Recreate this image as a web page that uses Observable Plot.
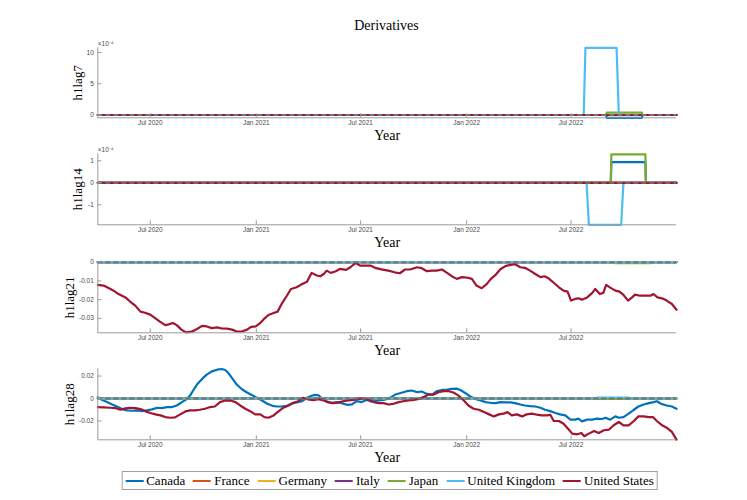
<!DOCTYPE html>
<html>
<head>
<meta charset="utf-8">
<script src="https://cdn.jsdelivr.net/npm/d3@7"></script>
<script src="https://cdn.jsdelivr.net/npm/@observablehq/plot@0.6"></script>
<style>
  body { margin: 0; background: #fff; }
  #wrap { position: relative; width: 747px; height: 500px; overflow: hidden; background: #fff; }
  #wrap svg { position: absolute; left: 0; overflow: visible; }
  #title { position: absolute; left: 97px; width: 579px; top: 18px; text-align: center;
           font: 14px "Liberation Serif", serif; color: #000; }
  #legend { position: absolute; top: 471px; left: 389.5px; transform: translateX(-50%);
            height: 17px; border: 1px solid #a0a0a0; background: #fff; display: flex; align-items: center;
            padding: 0 3px; white-space: nowrap; font: 13px "Liberation Serif", serif; color: #000; }
  #legend .item { display: flex; align-items: center; margin-right: 8px; }
  #legend .item:last-child { margin-right: 0; }
  #legend .sw { width: 18px; height: 2px; margin-right: 3px; }
</style>
</head>
<body>
<div id="wrap">
  <div id="title">Derivatives</div>
  <div id="legend"></div>
</div>
<script>
// ---------------- data ----------------
const COUNTRIES = ["Canada", "France", "Germany", "Italy", "Japan", "United Kingdom", "United States"];
const COLORS = ["#0072BD", "#D95319", "#EDB120", "#7E2F8E", "#77AC30", "#4DBEEE", "#A2142F"];
const X_START = "2020-04-01";
const X_END = "2022-12-31";
const X_TICKS = ["2020-07-01", "2021-01-01", "2021-07-01", "2022-01-01", "2022-07-01"];
const X_TICK_LABELS = ["Jul 2020", "Jan 2021", "Jul 2021", "Jan 2022", "Jul 2022"];
const FLAT_DATES = [X_START, X_END];
const FLAT_VALUES = [0, 0];

// h1lag7
const lag7_canada_dates = ["2020-04-01", "2022-08-31", "2022-09-01", "2022-11-01", "2022-11-02", "2022-12-31"];
const lag7_canada_values = [0, 0, -0.000045, -0.000045, 0, 0];
const lag7_japan_dates = ["2020-04-01", "2022-08-31", "2022-09-01", "2022-11-01", "2022-11-02", "2022-12-31"];
const lag7_japan_values = [0, 0, 0.000038, 0.000038, 0, 0];
const lag7_uk_dates = ["2020-04-01", "2022-07-23", "2022-07-26", "2022-09-18", "2022-09-22", "2022-12-31"];
const lag7_uk_values = [0, 0, 0.001075, 0.001075, 0, 0];

// h1lag14
const lag14_canada_dates = ["2020-04-01", "2022-09-08", "2022-09-09", "2022-11-07", "2022-11-08", "2022-12-31"];
const lag14_canada_values = [0, 0, 0.000094, 0.000094, 0, 0];
const lag14_japan_dates = ["2020-04-01", "2022-09-08", "2022-09-09", "2022-11-07", "2022-11-08", "2022-12-31"];
const lag14_japan_values = [0, 0, 0.000129, 0.000129, 0, 0];
const lag14_uk_dates = ["2020-04-01", "2022-07-28", "2022-08-01", "2022-09-26", "2022-09-30", "2022-12-31"];
const lag14_uk_values = [0, 0, -0.000191, -0.000191, 0, 0];

// h1lag21
const lag21_japan_dates = ["2020-04-01", "2022-09-15", "2022-09-16", "2022-11-16", "2022-11-17", "2022-12-31"];
const lag21_japan_values = [0, 0, -0.0005, -0.0005, 0, 0];
const lag21_us_dates = [
  "2020-04-01","2020-04-11","2020-04-23","2020-05-01","2020-05-07","2020-05-19","2020-05-27","2020-06-05","2020-06-14","2020-06-22",
  "2020-07-01","2020-07-10","2020-07-19","2020-07-27","2020-08-02","2020-08-09","2020-08-16","2020-08-24","2020-09-01","2020-09-11",
  "2020-09-20","2020-09-29","2020-10-07","2020-10-16","2020-10-25","2020-11-02","2020-11-11","2020-11-20","2020-11-28","2020-12-07",
  "2020-12-16","2020-12-23","2020-12-31","2021-01-07","2021-01-14","2021-01-22","2021-01-31","2021-02-07","2021-02-14","2021-02-23",
  "2021-03-02","2021-03-12","2021-03-19","2021-03-30","2021-04-07","2021-04-16","2021-04-22","2021-04-28","2021-05-03","2021-05-10",
  "2021-05-18","2021-05-26","2021-06-06","2021-06-13","2021-06-22","2021-06-30","2021-07-09","2021-07-18","2021-07-26","2021-08-06",
  "2021-08-18","2021-08-29","2021-09-07","2021-09-16","2021-09-25","2021-10-07","2021-10-15","2021-10-24","2021-11-02","2021-11-10",
  "2021-11-19","2021-11-28","2021-12-06","2021-12-15","2021-12-24","2022-01-01","2022-01-10","2022-01-18","2022-01-27","2022-02-05",
  "2022-02-12","2022-02-20","2022-02-28","2022-03-09","2022-03-18","2022-03-26","2022-04-04","2022-04-12","2022-04-21","2022-04-30",
  "2022-05-09","2022-05-16","2022-05-23","2022-06-01","2022-06-10","2022-06-18","2022-06-25","2022-07-01","2022-07-08","2022-07-14",
  "2022-07-20","2022-07-29","2022-08-07","2022-08-12","2022-08-20","2022-08-26","2022-08-31","2022-09-07","2022-09-16","2022-09-23",
  "2022-09-30","2022-10-08","2022-10-15","2022-10-20","2022-10-29","2022-11-07","2022-11-16","2022-11-21","2022-11-28","2022-12-06",
  "2022-12-14","2022-12-23","2022-12-31"];
const lag21_us_values = [
  -0.0121,-0.0125,-0.0143,-0.0157,-0.0170,-0.0188,-0.0210,-0.0232,-0.0264,-0.0270,
  -0.0280,-0.0300,-0.0320,-0.0336,-0.0332,-0.0325,-0.0336,-0.0360,-0.0375,-0.0371,
  -0.0357,-0.0340,-0.0343,-0.0352,-0.0348,-0.0354,-0.0355,-0.0360,-0.0370,-0.0370,
  -0.0360,-0.0345,-0.0343,-0.0327,-0.0304,-0.0282,-0.0271,-0.0264,-0.0223,-0.0179,
  -0.0143,-0.0134,-0.0121,-0.0104,-0.0057,-0.0071,-0.0075,-0.0063,-0.0045,-0.0057,
  -0.0050,-0.0036,-0.0041,-0.0027,-0.0005,-0.0018,-0.0018,-0.0018,-0.0030,-0.0038,
  -0.0045,-0.0054,-0.0059,-0.0039,-0.0039,-0.0027,-0.0032,-0.0048,-0.0045,-0.0045,
  -0.0039,-0.0057,-0.0075,-0.0089,-0.0080,-0.0082,-0.0089,-0.0125,-0.0139,-0.0116,
  -0.0089,-0.0068,-0.0039,-0.0021,-0.0014,-0.0011,-0.0027,-0.0030,-0.0045,-0.0063,
  -0.0080,-0.0075,-0.0086,-0.0110,-0.0134,-0.0152,-0.0157,-0.0205,-0.0196,-0.0193,
  -0.0200,-0.0188,-0.0164,-0.0143,-0.0170,-0.0164,-0.0121,-0.0136,-0.0152,-0.0157,
  -0.0175,-0.0205,-0.0188,-0.0173,-0.0179,-0.0179,-0.0179,-0.0170,-0.0188,-0.0193,
  -0.0205,-0.0223,-0.0254];

// h1lag28
const lag28_uk_dates = ["2020-04-01", "2022-08-14", "2022-08-15", "2022-10-09", "2022-10-10", "2022-12-31"];
const lag28_uk_values = [0, 0, 0.0009, 0.0009, 0, 0];
const lag28_japan_dates = ["2020-04-01", "2022-08-14", "2022-08-15", "2022-10-09", "2022-10-10", "2022-12-31"];
const lag28_japan_values = [0, 0, -0.0003, -0.0003, 0, 0];
const lag28_canada_dates = [
  "2020-04-01","2020-04-08","2020-04-17","2020-04-26","2020-05-04","2020-05-13","2020-05-22","2020-05-31","2020-06-08","2020-06-17",
  "2020-06-25","2020-07-04","2020-07-13","2020-07-21","2020-07-30","2020-08-08","2020-08-16","2020-08-25","2020-09-03","2020-09-08",
  "2020-09-14","2020-09-20","2020-09-29","2020-10-07","2020-10-16","2020-10-25","2020-11-02","2020-11-08","2020-11-14","2020-11-20",
  "2020-11-28","2020-12-07","2020-12-16","2020-12-24","2021-01-02","2021-01-11","2021-01-20","2021-01-29","2021-02-06","2021-02-14",
  "2021-02-23","2021-03-03","2021-03-12","2021-03-21","2021-03-30","2021-04-07","2021-04-13","2021-04-19","2021-04-25","2021-05-03",
  "2021-05-12","2021-05-20","2021-05-29","2021-06-07","2021-06-16","2021-06-24","2021-07-03","2021-07-12","2021-07-20","2021-07-29",
  "2021-08-10","2021-08-21","2021-08-30","2021-09-07","2021-09-19","2021-09-28","2021-10-07","2021-10-15","2021-10-24","2021-11-02",
  "2021-11-10","2021-11-19","2021-11-28","2021-12-06","2021-12-14","2021-12-21","2021-12-30","2022-01-07","2022-01-16","2022-01-25",
  "2022-02-03","2022-02-11","2022-02-20","2022-02-28","2022-03-09","2022-03-18","2022-03-26","2022-04-04","2022-04-12","2022-04-21",
  "2022-04-30","2022-05-09","2022-05-17","2022-05-26","2022-06-04","2022-06-12","2022-06-21","2022-06-30","2022-07-08","2022-07-14",
  "2022-07-20","2022-07-29","2022-08-07","2022-08-15","2022-08-24","2022-08-30","2022-09-07","2022-09-16","2022-09-22","2022-09-30",
  "2022-10-09","2022-10-18","2022-10-26","2022-11-04","2022-11-13","2022-11-21","2022-11-27","2022-12-04","2022-12-14","2022-12-23",
  "2022-12-31"];
const lag28_canada_values = [
  0.0012,-0.0012,-0.0032,-0.0053,-0.0071,-0.0094,-0.0106,-0.0109,-0.0106,-0.0112,
  -0.0106,-0.0097,-0.0082,-0.0085,-0.0076,-0.0076,-0.0062,-0.0032,-0.0003,0.0026,
  0.0076,0.0124,0.0174,0.0212,0.0241,0.0256,0.0262,0.0253,0.0224,0.0182,
  0.0124,0.0082,0.0053,0.0032,0.0006,-0.0018,-0.0047,-0.0065,-0.0071,-0.0071,
  -0.0065,-0.0047,-0.0035,-0.0024,0.0006,0.0024,0.0032,0.0029,-0.0003,-0.0024,
  -0.0041,-0.0032,-0.0041,-0.0056,-0.0053,-0.0024,-0.0032,-0.0012,-0.0028,-0.0020,
  -0.0012,0.0006,0.0035,0.0047,0.0065,0.0071,0.0056,0.0062,0.0041,0.0035,
  0.0065,0.0076,0.0079,0.0085,0.0088,0.0076,0.0047,0.0018,-0.0003,-0.0018,
  -0.0032,-0.0038,-0.0041,-0.0032,-0.0035,-0.0035,-0.0041,-0.0053,-0.0062,-0.0068,
  -0.0071,-0.0082,-0.0100,-0.0112,-0.0129,-0.0141,-0.0150,-0.0188,-0.0188,-0.0179,
  -0.0203,-0.0188,-0.0188,-0.0179,-0.0182,-0.0171,-0.0188,-0.0159,-0.0171,-0.0165,
  -0.0135,-0.0100,-0.0071,-0.0053,-0.0041,-0.0032,-0.0024,-0.0047,-0.0062,-0.0071,
  -0.0091];
const lag28_us_dates = [
  "2020-04-01","2020-04-11","2020-04-23","2020-05-01","2020-05-10","2020-05-19","2020-05-27","2020-06-05","2020-06-14","2020-06-22",
  "2020-07-01","2020-07-10","2020-07-19","2020-07-27","2020-08-05","2020-08-13","2020-08-22","2020-08-31","2020-09-08","2020-09-17",
  "2020-09-25","2020-10-04","2020-10-13","2020-10-21","2020-10-30","2020-11-08","2020-11-17","2020-11-26","2020-12-04","2020-12-13",
  "2020-12-22","2020-12-30","2021-01-08","2021-01-15","2021-01-22","2021-01-31","2021-02-09","2021-02-17","2021-02-26","2021-03-06",
  "2021-03-15","2021-03-23","2021-04-01","2021-04-10","2021-04-19","2021-04-28","2021-05-06","2021-05-15","2021-05-23","2021-06-01",
  "2021-06-10","2021-06-19","2021-06-27","2021-07-06","2021-07-15","2021-07-24","2021-08-01","2021-08-10","2021-08-18","2021-08-27",
  "2021-09-05","2021-09-13","2021-09-22","2021-10-01","2021-10-10","2021-10-18","2021-10-27","2021-11-05","2021-11-13","2021-11-22",
  "2021-12-01","2021-12-09","2021-12-18","2021-12-27","2022-01-04","2022-01-13","2022-01-22","2022-01-31","2022-02-09","2022-02-17",
  "2022-02-26","2022-03-06","2022-03-13","2022-03-20","2022-03-29","2022-04-07","2022-04-15","2022-04-24","2022-05-03","2022-05-11",
  "2022-05-20","2022-05-26","2022-06-01","2022-06-10","2022-06-18","2022-06-27","2022-07-03","2022-07-12","2022-07-19","2022-07-24",
  "2022-08-01","2022-08-10","2022-08-18","2022-08-27","2022-09-05","2022-09-13","2022-09-22","2022-09-30","2022-10-09","2022-10-18",
  "2022-10-26","2022-11-04","2022-11-13","2022-11-20","2022-11-27","2022-12-06","2022-12-14","2022-12-23","2022-12-31"];
const lag28_us_values = [
  -0.0076,-0.0079,-0.0082,-0.0085,-0.0100,-0.0088,-0.0082,-0.0085,-0.0094,-0.0112,
  -0.0129,-0.0141,-0.0150,-0.0165,-0.0171,-0.0168,-0.0141,-0.0115,-0.0106,-0.0106,
  -0.0100,-0.0091,-0.0076,-0.0071,-0.0032,-0.0018,-0.0018,-0.0032,-0.0062,-0.0091,
  -0.0115,-0.0141,-0.0141,-0.0165,-0.0171,-0.0150,-0.0112,-0.0082,-0.0062,-0.0038,
  -0.0024,0.0006,-0.0009,-0.0015,-0.0006,-0.0018,-0.0035,-0.0041,-0.0035,-0.0024,
  -0.0018,-0.0012,-0.0003,0.0000,-0.0012,-0.0032,-0.0041,-0.0041,-0.0053,-0.0047,
  -0.0032,-0.0024,-0.0018,-0.0012,-0.0003,0.0012,0.0035,0.0035,0.0056,0.0065,
  0.0065,0.0053,0.0026,-0.0018,-0.0062,-0.0091,-0.0100,-0.0121,-0.0141,-0.0159,
  -0.0141,-0.0135,-0.0121,-0.0150,-0.0141,-0.0159,-0.0141,-0.0135,-0.0144,-0.0150,
  -0.0150,-0.0144,-0.0200,-0.0200,-0.0224,-0.0276,-0.0312,-0.0318,-0.0306,-0.0335,
  -0.0312,-0.0288,-0.0306,-0.0282,-0.0276,-0.0238,-0.0209,-0.0238,-0.0238,-0.0200,
  -0.0159,-0.0159,-0.0165,-0.0165,-0.0200,-0.0238,-0.0259,-0.0297,-0.0365];

// axis ticks per panel
const lag7_yticks = [0, 0.0005, 0.001];
const lag7_yticklabels = ["0", "5", "10"];
const lag14_yticks = [-0.0001, 0, 0.0001];
const lag14_yticklabels = ["-1", "0", "1"];
const lag21_yticks = [-0.03, -0.02, -0.01, 0];
const lag21_yticklabels = ["-0.03", "-0.02", "-0.01", "0"];
const lag28_yticks = [-0.02, 0, 0.02];
const lag28_yticklabels = ["-0.02", "0", "0.02"];

// ---------------- drawing ----------------
const SERIF = '"Liberation Serif", "DejaVu Serif", serif';
const SANS = '"Liberation Sans", Arial, sans-serif';
const AXIS = "#9a9a9a";
const TICKTXT = "#4a4a4a";
const W = 747, ML = 97.3, MR = 71;
const parse = s => new Date(s + "T00:00:00Z");
const xDomain = [parse(X_START), parse(X_END)];
const xTicks = X_TICKS.map(parse);

function rows(dates, values) { return dates.map((d, i) => ({date: parse(d), value: values[i]})); }

function panel({series, yDomain, yTicks, yTickLabels, ylabel, ylabelOffset, exponent, top, marginTop, height}) {
  const marginBottom = 27.7;
  const plotH = height - marginTop - marginBottom;
  const plotW = W - ML - MR;
  const marks = [];
  COUNTRIES.forEach((c, i) => {
    const s = series[c] || [FLAT_DATES, FLAT_VALUES];
    marks.push(Plot.line(rows(s[0], s[1]), {x: "date", y: "value", stroke: COLORS[i], strokeWidth: 2.2}));
  });
  marks.push(Plot.ruleY([0], {stroke: "#737373", strokeWidth: 2, strokeDasharray: "5,3"}));
  marks.push(Plot.ruleX([xDomain[0]], {stroke: AXIS, strokeWidth: 1}));
  marks.push(Plot.ruleY([yDomain[0]], {stroke: AXIS, strokeWidth: 1}));
  marks.push(Plot.tickX(xTicks, {x: d => d, insetTop: plotH - 4, stroke: AXIS}));
  marks.push(Plot.tickY(yTicks, {y: d => d, insetRight: plotW - 4, stroke: AXIS}));
  marks.push(Plot.axisX({ticks: xTicks, tickFormat: d => X_TICK_LABELS[xTicks.findIndex(t => +t === +d)],
    tickSize: 0, tickPadding: 3, fontSize: 6.5, fontFamily: SANS, fill: TICKTXT, label: null}));
  marks.push(Plot.axisY({ticks: yTicks, tickFormat: d => yTickLabels[yTicks.indexOf(d)],
    tickSize: 0, tickPadding: 4, fontSize: 6.5, fontFamily: SANS, fill: TICKTXT, label: null}));
  marks.push(Plot.text([ylabel], {text: d => d, frameAnchor: "left", dx: -ylabelOffset, rotate: -90,
    textAnchor: "middle", lineAnchor: "middle", fontSize: 13, fontFamily: SERIF, fill: "#000"}));
  marks.push(Plot.text(["Year"], {text: d => d, frameAnchor: "bottom", dy: 18,
    textAnchor: "middle", lineAnchor: "middle", fontSize: 14, fontFamily: SERIF, fill: "#000"}));
  if (exponent) {
    marks.push(Plot.text([exponent], {text: d => d, frameAnchor: "top-left", dy: -4,
      textAnchor: "start", lineAnchor: "middle", fontSize: 6.5, fontFamily: SANS, fill: TICKTXT}));
  }
  const svg = Plot.plot({
    width: W, height, marginLeft: ML, marginRight: MR, marginTop, marginBottom,
    x: {type: "utc", domain: xDomain},
    y: {domain: yDomain},
    style: {background: "transparent", overflow: "visible"},
    marks
  });
  svg.style.top = top + "px";
  document.getElementById("wrap").appendChild(svg);
}

panel({
  series: {"Canada": [lag7_canada_dates, lag7_canada_values], "Japan": [lag7_japan_dates, lag7_japan_values],
           "United Kingdom": [lag7_uk_dates, lag7_uk_values]},
  yDomain: [-0.000045, 0.001075], yTicks: lag7_yticks, yTickLabels: lag7_yticklabels,
  ylabel: "h1lag7", ylabelOffset: 20, exponent: "×10⁻⁴", top: 37, marginTop: 10.3, height: 108
});
panel({
  series: {"Canada": [lag14_canada_dates, lag14_canada_values], "Japan": [lag14_japan_dates, lag14_japan_values],
           "United Kingdom": [lag14_uk_dates, lag14_uk_values]},
  yDomain: [-0.000191, 0.000132], yTicks: lag14_yticks, yTickLabels: lag14_yticklabels,
  ylabel: "h1lag14", ylabelOffset: 20, exponent: "×10⁻⁴", top: 145, marginTop: 8.3, height: 107
});
panel({
  series: {"Japan": [lag21_japan_dates, lag21_japan_values], "United States": [lag21_us_dates, lag21_us_values]},
  yDomain: [-0.0377, 0.0001], yTicks: lag21_yticks, yTickLabels: lag21_yticklabels,
  ylabel: "h1lag21", ylabelOffset: 28, exponent: null, top: 252, marginTop: 9.5, height: 108
});
panel({
  series: {"Canada": [lag28_canada_dates, lag28_canada_values], "Japan": [lag28_japan_dates, lag28_japan_values],
           "United Kingdom": [lag28_uk_dates, lag28_uk_values], "United States": [lag28_us_dates, lag28_us_values]},
  yDomain: [-0.0367, 0.0264], yTicks: lag28_yticks, yTickLabels: lag28_yticklabels,
  ylabel: "h1lag28", ylabelOffset: 28, exponent: null, top: 360, marginTop: 8.3, height: 107
});

// legend
const legend = document.getElementById("legend");
COUNTRIES.forEach((c, i) => {
  const item = document.createElement("div");
  item.className = "item";
  const sw = document.createElement("span");
  sw.className = "sw";
  sw.style.background = COLORS[i];
  const t = document.createElement("span");
  t.textContent = c;
  item.appendChild(sw);
  item.appendChild(t);
  legend.appendChild(item);
});
</script>
</body>
</html>
